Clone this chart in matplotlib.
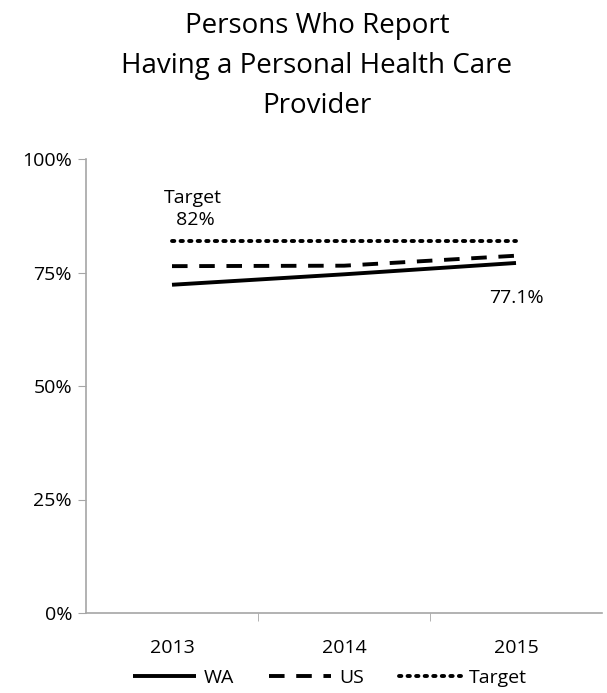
import matplotlib
matplotlib.use("Agg")
import matplotlib.pyplot as plt
from matplotlib.ticker import FixedLocator, PercentFormatter

years = ["2013", "2014", "2015"]
wa = [72.3, 74.6, 77.1]
us = [76.4, 76.5, 78.7]
target = [82, 82, 82]

plt.rcParams['font.family'] = ['Open Sans', 'DejaVu Sans']

fig = plt.figure(figsize=(6.07, 6.93), dpi=100)
ax = fig.add_axes([86/607, 80/693, (602-86)/607, (613-159)/693])

x = list(range(len(years)))
l1, = ax.plot(x, wa, color='black', lw=2.8, solid_capstyle='butt', label='WA')
l2, = ax.plot(x, us, color='black', lw=2.8, linestyle=(0, (4, 3)), dash_capstyle='butt', label='US')
l3, = ax.plot(x, target, color='black', lw=2.8, linestyle=(0, (0.6, 1.6)), dash_capstyle='round', label='Target')

ax.set_xlim(-0.5, 2.5)
ax.set_ylim(0, 100)
ax.yaxis.set_major_locator(FixedLocator([0, 25, 50, 75, 100]))
ax.yaxis.set_major_formatter(PercentFormatter(decimals=0))
ax.set_xticks(x)
ax.set_xticklabels(years)
ax.xaxis.set_minor_locator(FixedLocator([0.5, 1.5]))
ax.tick_params(axis='x', which='major', length=0, pad=19, labelsize=14)
ax.tick_params(axis='x', which='minor', length=6, color='#a6a6a6', direction='out')
ax.tick_params(axis='y', length=6, color='#a6a6a6', labelsize=14, pad=4)
for s in ['top', 'right']:
    ax.spines[s].set_visible(False)
for s in ['left', 'bottom']:
    ax.spines[s].set_color('#a6a6a6')
    ax.spines[s].set_linewidth(1.2)

ax.text(0.12, 84.5, "Target\n 82%", ha='center', va='bottom', fontsize=14, linespacing=1.3)
ax.text(2.0, 69.4, "77.1%", ha='center', va='center', fontsize=14)

fig.text(317/607, 1 - 66/693, "Persons Who Report\nHaving a Personal Health Care\nProvider",
         ha='center', va='center', fontsize=20, linespacing=1.55)

fig.legend(handles=[l1, l2, l3], loc='center', bbox_to_anchor=(330/607, 1 - 678/693),
           ncol=3, frameon=False, fontsize=14, handlelength=3.2, columnspacing=1.8,
           handletextpad=0.4, borderaxespad=0)

fig.savefig("out.png", dpi=100)
